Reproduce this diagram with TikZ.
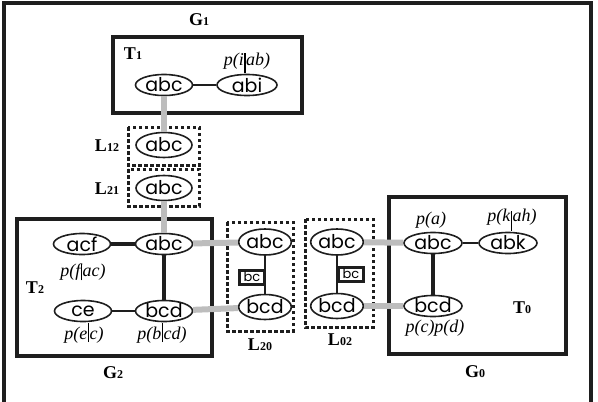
\documentclass[tikz,border=0pt]{standalone}
\usepackage{fontspec}
\setmainfont{Liberation Serif}
\newfontfamily\cliquefont{Poppins}
\usepackage{tikz}
\usetikzlibrary{positioning,shapes.geometric}
\definecolor{jtline}{HTML}{1E1E1E}
\definecolor{jtgray}{HTML}{BDBDBD}
% small index digits and the tall conditioning bar
\newcommand{\dg}[1]{{\fontsize{12}{12}\selectfont #1}}
\newcommand{\given}[2]{\kern0.6pt\rule[-#1]{1.1pt}{#2}\kern0.6pt}

\begin{document}
\begin{tikzpicture}[
  x=1pt, y=-1pt,
  clique/.style={ellipse, draw=jtline, line width=1.6pt, minimum width=57pt,
                 minimum height=21pt, inner sep=0pt,
                 font=\cliquefont\fontsize{19}{19}\selectfont},
  sclique/.style={clique, minimum width=47pt, minimum height=25pt},
  sepbox/.style={draw=jtline, line width=3pt, minimum width=25pt,
                 minimum height=14pt, inner sep=0pt,
                 font=\cliquefont\fontsize{13}{13}\selectfont},
  treebox/.style={draw=jtline, line width=3.4pt},
  linkbox/.style={draw=jtline, dash pattern=on 3.5pt off 2.5pt, line width=3pt},
  tie/.style={draw=jtline, line width=3.2pt},
  msg/.style={draw=jtgray, line width=6pt},
  glab/.style={font=\fontsize{18}{18}\selectfont\bfseries},
  prob/.style={font=\fontsize{18}{18}\selectfont\itshape},
]
  \useasboundingbox (0,0) rectangle (598,402);
  \draw[treebox] (4,405) -- (4,3) -- (591,3) -- (591,405);

  % ---- G1: tree T1 and its two link cliques --------------------------------
  \node[glab] (g1) at (199,20) {G\dg{1}};
  \draw[treebox] (113,37) rectangle (302,113);
  \node[glab] (t1) at (133,54) {T\dg{1}};
  \node[clique] (t1abc) at (164,85) {abc};
  \node[clique, minimum width=60pt] (t1abi) at (247,85) {abi};
  \node[prob] (pi) at (247,63) {p(i\given{8pt}{20pt}ab)};
  \draw[tie, line width=2.8pt] (t1abc) -- (t1abi);

  \draw[linkbox] (128,127) rectangle (199,165);
  \node[glab] (l12) at (107,146) {L\dg{12}};
  \node[sclique, minimum width=56pt] (l12abc) at (164,145) {abc};
  \draw[linkbox] (128,169) rectangle (199,206);
  \node[glab] (l21) at (107,189) {L\dg{21}};
  \node[sclique, minimum width=56pt] (l21abc) at (164,188) {abc};
  \draw[msg] (t1abc) -- (l12abc);

  % ---- G2: tree T2 -------------------------------------------------------------
  \node[glab] (g2) at (113,373) {G\dg{2}};
  \draw[treebox] (17,219) rectangle (212,356);
  \node[glab] (t2) at (35,288) {T\dg{2}};
  \node[clique] (t2acf) at (82,244) {acf};
  \node[clique] (t2abc) at (164,244) {abc};
  \node[clique] (t2ce) at (83,311) {ce};
  \node[clique] (t2bcd) at (164,311) {bcd};
  \node[prob] (pf) at (83,272) {p(f\given{4pt}{16pt}ac)};
  \node[prob] (pe) at (84,333) {p(e\given{3pt}{19pt}c)};
  \node[prob] (pb) at (162,333) {p(b\given{3pt}{19pt}cd)};
  \draw[tie] (t2acf) -- (t2abc);
  \draw[tie] (t2abc) -- (t2bcd);
  \draw[tie, line width=2.8pt] (t2ce) -- (t2bcd);
  \draw[msg] (l21abc) -- (t2abc);

  % ---- links L20 and L02 ---------------------------------------------------------
  \draw[linkbox] (227,222) rectangle (293,331);
  \node[glab] (l20) at (260,345) {L\dg{20}};
  \node[sclique, minimum height=26pt] (l20abc) at (265,242) {abc};
  \node[sclique] (l20bcd) at (265,307) {bcd};
  \draw[tie, line width=2.8pt] (l20abc) -- (l20bcd);
  \node[sepbox] (s20) at (252,277) {bc};

  \draw[linkbox] (305,219) rectangle (373,327);
  \node[glab] (l02) at (340,340) {L\dg{02}};
  \node[sclique, minimum height=26pt] (l02abc) at (337,242) {abc};
  \node[sclique] (l02bcd) at (337,306) {bcd};
  \draw[tie, line width=2.8pt] (l02abc) -- (l02bcd);
  \node[sepbox] (s02) at (351,274) {bc};

  \draw[msg] (t2abc) -- (l20abc);
  \draw[msg] (t2bcd) -- (l20bcd);

  % ---- G0: tree T0 -------------------------------------------------------------
  \node[glab] (g0) at (475,372) {G\dg{0}};
  \draw[treebox] (389,197) rectangle (566,354);
  \node[glab] (t0) at (522,308) {T\dg{0}};
  \node[clique, minimum width=58pt] (t0abc) at (433,243) {abc};
  \node[clique, minimum width=58pt] (t0abk) at (508,243) {abk};
  \node[clique, minimum width=58pt] (t0bcd) at (433,306) {bcd};
  \node[prob] (pa) at (431,220) {p(a)};
  \node[prob] (pk) at (512,220) {p(k\given{10pt}{20pt}ah)};
  \node[prob] (pcd) at (435,328) {p(c)p(d)};
  \draw[tie, line width=2.8pt] (t0abc) -- (t0abk);
  \draw[tie] (t0abc) -- (t0bcd);

  \draw[msg] (l02abc) -- (t0abc);
  \draw[msg] (l02bcd) -- (t0bcd);
\end{tikzpicture}
\end{document}
